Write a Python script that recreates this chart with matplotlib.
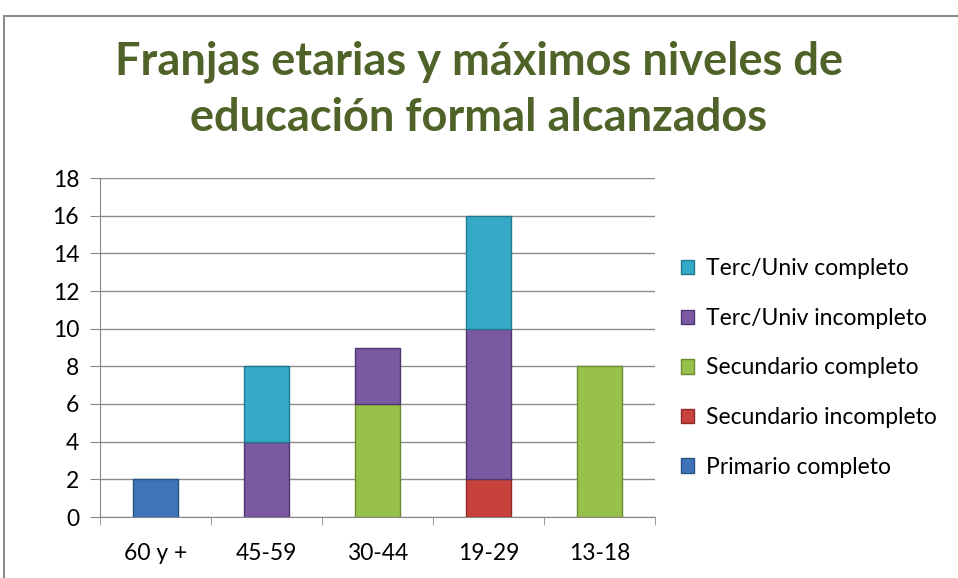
import numpy as np
from matplotlib import pyplot as plt
from matplotlib.patches import Rectangle

plt.rcParams['font.family'] = ['Lato', 'DejaVu Sans']

grupos = ["60 y +", "45-59", "30-44", "19-29", "13-18"]
primario_completo = [2, 0, 0, 0, 0]
secundario_incompleto = [0, 0, 0, 2, 0]
secundario_completo = [0, 0, 6, 0, 8]
terc_incompleto = [0, 4, 3, 8, 0]
terc_completo = [0, 4, 0, 6, 0]

series = [
    ("Primario completo", primario_completo, "#3f74b8", "#2a5385"),
    ("Secundario incompleto", secundario_incompleto, "#c8413d", "#8e2a27"),
    ("Secundario completo", secundario_completo, "#97c14a", "#6a8a30"),
    ("Terc/Univ incompleto", terc_incompleto, "#7a58a2", "#4f3870"),
    ("Terc/Univ completo", terc_completo, "#35a9c8", "#23788f"),
]

fig = plt.figure(figsize=(9.58, 5.78), dpi=100)
# marco del gráfico
fig.patches.append(Rectangle((4 / 958, -0.1), 1.2, (570 - 8) / 578 + 0.1,
                             transform=fig.transFigure, fill=False,
                             edgecolor="#8c8c8c", linewidth=1.5))

ax = fig.add_axes([100 / 958, 61 / 578, 555 / 958, 339 / 578])
x = np.arange(len(grupos))
bottom = np.zeros(len(grupos))
handles = []
for label, vals, color, edge in series:
    vals = np.array(vals, dtype=float)
    m = vals > 0
    h = ax.bar(x[m], vals[m], width=0.4, bottom=bottom[m], color=color,
               edgecolor=edge, linewidth=1, label=label, zorder=3)
    handles.append(h)
    bottom += vals

ax.set_xlim(-0.5, len(grupos) - 0.5)
ax.set_ylim(0, 18)
ax.set_yticks(range(0, 19, 2))
ax.set_xticks(x)
ax.set_xticklabels(grupos)
ax.set_xticks(np.arange(-0.5, len(grupos), 1), minor=True)
ax.tick_params(axis="x", which="major", length=0, pad=19, labelsize=16.5)
ax.tick_params(axis="x", which="minor", length=6, color="#888888")
ax.tick_params(axis="y", length=7, color="#888888", labelsize=16.5, pad=8)
ax.grid(axis="y", color="#8c8c8c", linewidth=1, zorder=0)
for s in ["top", "right"]:
    ax.spines[s].set_visible(False)
ax.spines["left"].set_color("#888888")
ax.spines["bottom"].set_color("#888888")

fig.text(0.5, 1 - 90 / 578, "Franjas etarias y máximos niveles de\neducación formal alcanzados",
         ha="center", va="center", fontsize=32.5, fontweight="bold",
         color="#4f6228", linespacing=1.4)

fig.legend(handles[::-1], [s[0] for s in series][::-1],
           loc="center left", bbox_to_anchor=(660 / 958, 1 - 368 / 578),
           frameon=False, fontsize=16.5, handlelength=0.6, handleheight=0.6,
           handletextpad=0.5, labelspacing=1.25)

plt.savefig("out.png", dpi=100)
